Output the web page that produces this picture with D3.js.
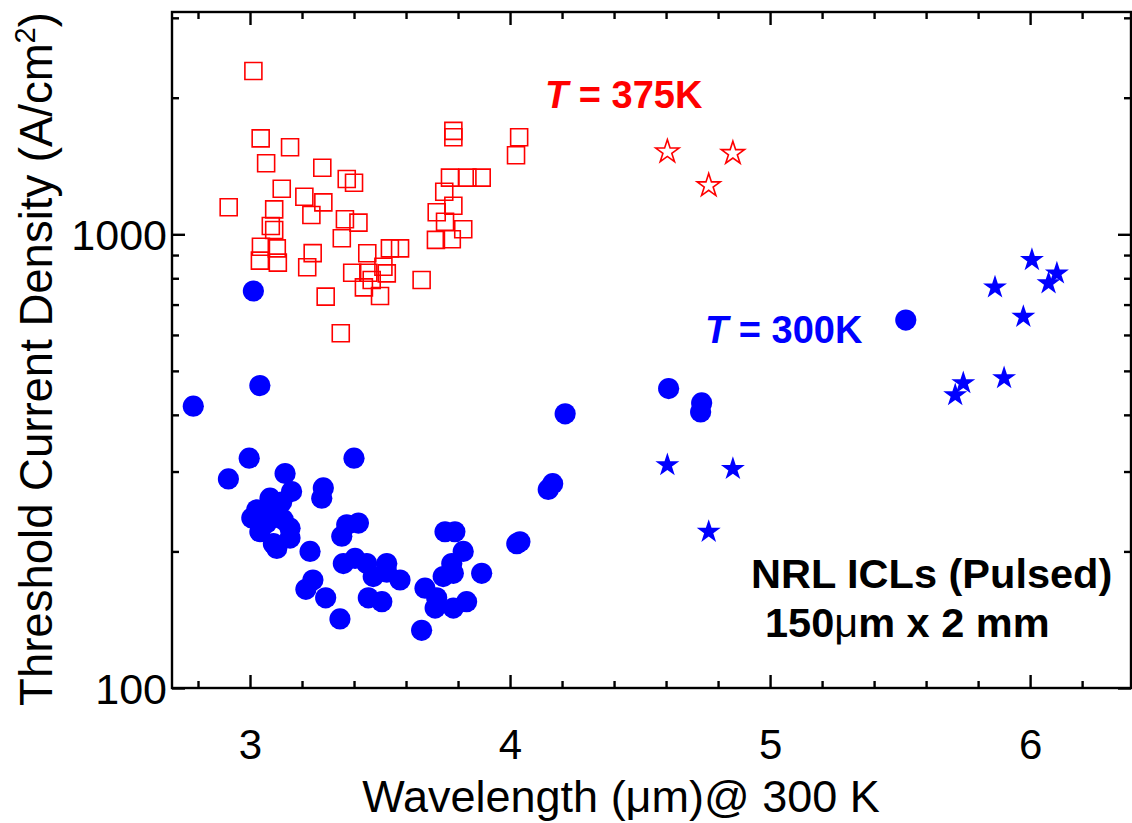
<!DOCTYPE html>
<html>
<head>
<meta charset="utf-8">
<script src="https://cdn.jsdelivr.net/npm/d3@7"></script>
<style>
  html, body { margin: 0; padding: 0; background: #fff; }
  svg { display: block; font-family: "Liberation Sans", Arial, Helvetica, sans-serif; }
</style>
</head>
<body>
<svg id="chart" width="1132" height="823"></svg>
<script>
// Threshold current density of NRL interband cascade lasers vs. emission wavelength

// T = 375K, open squares: [wavelength µm, Jth A/cm²]
const hot375Squares = [
  [3.013, 2290], [3.041, 1627], [3.154, 1555], [3.062, 1434], [3.278, 1402],
  [3.372, 1324], [3.400, 1299], [3.122, 1260], [3.209, 1210], [3.282, 1176],
  [2.918, 1147], [3.093, 1135], [3.236, 1103], [3.365, 1079], [3.417, 1061],
  [3.080, 1043], [3.093, 1022], [3.042, 939], [3.103, 931], [3.353, 980],
  [3.241, 909], [3.451, 908], [3.538, 931], [3.577, 931], [3.718, 1118],
  [3.747, 1241], [3.769, 1333], [3.836, 1333], [3.891, 1333], [3.782, 1156],
  [3.750, 1066], [3.820, 1026], [3.715, 972], [3.776, 975], [3.782, 1690],
  [3.782, 1636], [4.035, 1636], [4.023, 1493], [3.038, 875], [3.107, 866],
  [3.220, 846], [3.393, 823], [3.455, 823], [3.513, 848], [3.526, 820],
  [3.438, 764], [3.500, 731], [3.291, 729], [3.660, 793], [3.349, 605],
  [3.468, 793]
];

// T = 375K, open stars
const hot375Stars = [
  [4.605, 1520], [4.857, 1508], [4.764, 1280]
];

// T = 300K, filled circles
const rt300Circles = [
  [3.013, 750], [3.038, 464], [2.782, 418], [2.997, 321], [3.400, 321],
  [2.917, 289], [3.135, 297], [3.160, 271], [3.282, 276], [3.276, 262],
  [3.077, 262], [3.122, 257], [3.026, 247], [3.007, 237], [3.103, 245],
  [3.064, 231], [3.154, 225], [3.038, 221], [3.154, 214], [3.090, 208],
  [3.103, 203], [3.231, 200], [3.372, 229], [3.417, 231], [3.353, 216],
  [3.359, 188], [3.404, 193], [3.449, 188], [3.474, 176], [3.526, 188],
  [3.526, 180], [3.577, 173], [3.455, 158], [3.507, 155], [3.346, 142],
  [3.660, 134], [3.673, 166], [3.718, 158], [3.712, 150], [3.782, 150],
  [3.833, 155], [3.750, 221], [3.788, 221], [3.820, 200], [3.776, 188],
  [3.782, 179], [3.743, 176], [3.891, 179], [3.215, 165], [3.242, 173],
  [3.291, 158], [4.026, 208], [4.038, 210], [4.164, 282], [4.147, 274],
  [4.212, 402], [4.610, 457], [4.737, 425], [4.733, 406], [5.522, 647],
  [3.046, 241], [3.128, 235], [3.077, 237]
];

// T = 300K, filled stars
const rt300Stars = [
  [4.605, 310], [4.857, 304], [4.764, 221], [6.007, 878], [5.865, 764],
  [6.103, 820], [6.071, 780], [5.974, 658], [5.743, 470], [5.712, 442],
  [5.900, 482]
];

// Axis ticks and labels
const xMajorTicks = [3, 4, 5, 6];
const xMinorTicks = [2.8, 3.2, 3.4, 3.6, 3.8, 4.2, 4.4, 4.6, 4.8, 5.2, 5.4, 5.6, 5.8, 6.2];
const yMajorTicks = [100, 1000];
const yMinorTicks = [200, 300, 400, 500, 600, 700, 800, 900, 2000, 3000];
const xTitle = "Wavelength (\u03bcm)@ 300 K";
const yTitle = "Threshold Current Density (A/cm";

const svg = d3.select("#chart");
const plot = { left: 172, right: 1131, top: 12, bottom: 688 };

const x = d3.scaleLinear().domain([2.7, 6.388]).range([plot.left, plot.right]);
const y = d3.scaleLog().domain([100, 3090]).range([plot.bottom, plot.top]);

const RED = "#ff0000";
const BLUE = "#0000ff";

// --- markers ---
const circle = d3.symbol().type(d3.symbolCircle).size(Math.PI * 10.6 * 10.6);
const square = d3.symbol().type(d3.symbolSquare).size(17 * 17);
const starFilled = d3.symbol().type(d3.symbolStar).size(12.6 * 12.6 / 0.8908130915292852);
const starOpen = d3.symbol().type(d3.symbolStar).size(12.2 * 12.2 / 0.8908130915292852);

const marks = svg.append("g");

marks.selectAll("path.c300").data(rt300Circles).join("path")
  .attr("class", "c300")
  .attr("d", circle)
  .attr("transform", d => `translate(${x(d[0])},${y(d[1])})`)
  .attr("fill", BLUE);

marks.selectAll("path.s300").data(rt300Stars).join("path")
  .attr("class", "s300")
  .attr("d", starFilled)
  .attr("transform", d => `translate(${x(d[0])},${y(d[1])})`)
  .attr("fill", BLUE);

marks.selectAll("path.q375").data(hot375Squares).join("path")
  .attr("class", "q375")
  .attr("d", square)
  .attr("transform", d => `translate(${x(d[0])},${y(d[1])})`)
  .attr("fill", "none")
  .attr("stroke", RED)
  .attr("stroke-width", 1.6);

marks.selectAll("path.s375").data(hot375Stars).join("path")
  .attr("class", "s375")
  .attr("d", starOpen)
  .attr("transform", d => `translate(${x(d[0])},${y(d[1])})`)
  .attr("fill", "none")
  .attr("stroke", RED)
  .attr("stroke-width", 1.6)
  .attr("stroke-linejoin", "miter");

// --- axes (inward ticks on all four sides) ---
const axisStroke = 2.4;
const MAJ = 13, MIN = 7;

function styleAxis(g) {
  g.select(".domain").remove();
  g.selectAll(".tick line").attr("stroke", "#000").attr("stroke-width", axisStroke);
}

function addX(yPos, dir, withLabels) {
  const mk = dir === "bottom" ? d3.axisBottom : d3.axisTop;
  const major = svg.append("g").attr("transform", `translate(0,${yPos})`)
    .call(mk(x).tickValues(xMajorTicks).tickSize(-MAJ).tickPadding(0)
      .tickFormat(withLabels ? d3.format("d") : ""));
  styleAxis(major);
  const minor = svg.append("g").attr("transform", `translate(0,${yPos})`)
    .call(mk(x).tickValues(xMinorTicks).tickSize(-MIN).tickFormat(""));
  styleAxis(minor);
  return major;
}

function addY(xPos, dir, withLabels) {
  const mk = dir === "left" ? d3.axisLeft : d3.axisRight;
  const major = svg.append("g").attr("transform", `translate(${xPos},0)`)
    .call(mk(y).tickValues(yMajorTicks).tickSize(-MAJ).tickPadding(0)
      .tickFormat(withLabels ? d3.format("d") : ""));
  styleAxis(major);
  const minor = svg.append("g").attr("transform", `translate(${xPos},0)`)
    .call(mk(y).tickValues(yMinorTicks).tickSize(-MIN).tickFormat(""));
  styleAxis(minor);
  return major;
}

const xBottom = addX(plot.bottom, "bottom", true);
addX(plot.top, "top", false);
const yLeft = addY(plot.left, "left", true);
addY(plot.right, "right", false);

// frame
svg.append("rect")
  .attr("x", plot.left).attr("y", plot.top)
  .attr("width", plot.right - plot.left).attr("height", plot.bottom - plot.top)
  .attr("fill", "none").attr("stroke", "#000").attr("stroke-width", axisStroke);

// tick label styling
xBottom.selectAll(".tick text")
  .attr("fill", "#000").attr("font-size", 42)
  .attr("font-family", "Liberation Sans, Arial, sans-serif")
  .attr("y", 0).attr("dy", 0)
  .attr("transform", "translate(0,71)");

yLeft.selectAll(".tick text")
  .attr("fill", "#000").attr("font-size", 43)
  .attr("font-family", "Liberation Sans, Arial, sans-serif")
  .attr("x", -5).attr("dy", "0.35em");

// --- axis titles ---
svg.append("text")
  .attr("x", 621).attr("y", 812)
  .attr("text-anchor", "middle")
  .attr("font-size", 45)
  .attr("fill", "#000")
  .text(xTitle);

const yt = svg.append("text")
  .attr("transform", "translate(52,359) rotate(-90)")
  .attr("text-anchor", "middle")
  .attr("font-size", 45.5)
  .attr("fill", "#000");
yt.append("tspan").text(yTitle);
yt.append("tspan").attr("font-size", 29).attr("dy", -17).text("2");
yt.append("tspan").attr("dy", 17).text(")");

// --- annotations ---
function tempLabel(px, py, color, value) {
  const t = svg.append("text")
    .attr("x", px).attr("y", py)
    .attr("font-size", 38).attr("font-weight", "bold")
    .attr("fill", color);
  t.append("tspan").attr("font-style", "italic").text("T");
  t.append("tspan").text(" = " + value);
}
tempLabel(545, 108, RED, "375K");
tempLabel(705, 343, BLUE, "300K");

svg.append("text")
  .attr("x", 751).attr("y", 588)
  .attr("font-size", 41.5).attr("font-weight", "bold").attr("fill", "#000")
  .text("NRL ICLs (Pulsed)");

const dim = svg.append("text")
  .attr("x", 765).attr("y", 637)
  .attr("font-size", 41.5).attr("font-weight", "bold").attr("fill", "#000");
dim.append("tspan").text("150");
dim.append("tspan").attr("font-weight", "normal").text("\u03bc");
dim.append("tspan").text("m x 2 mm");
</script>
</body>
</html>
